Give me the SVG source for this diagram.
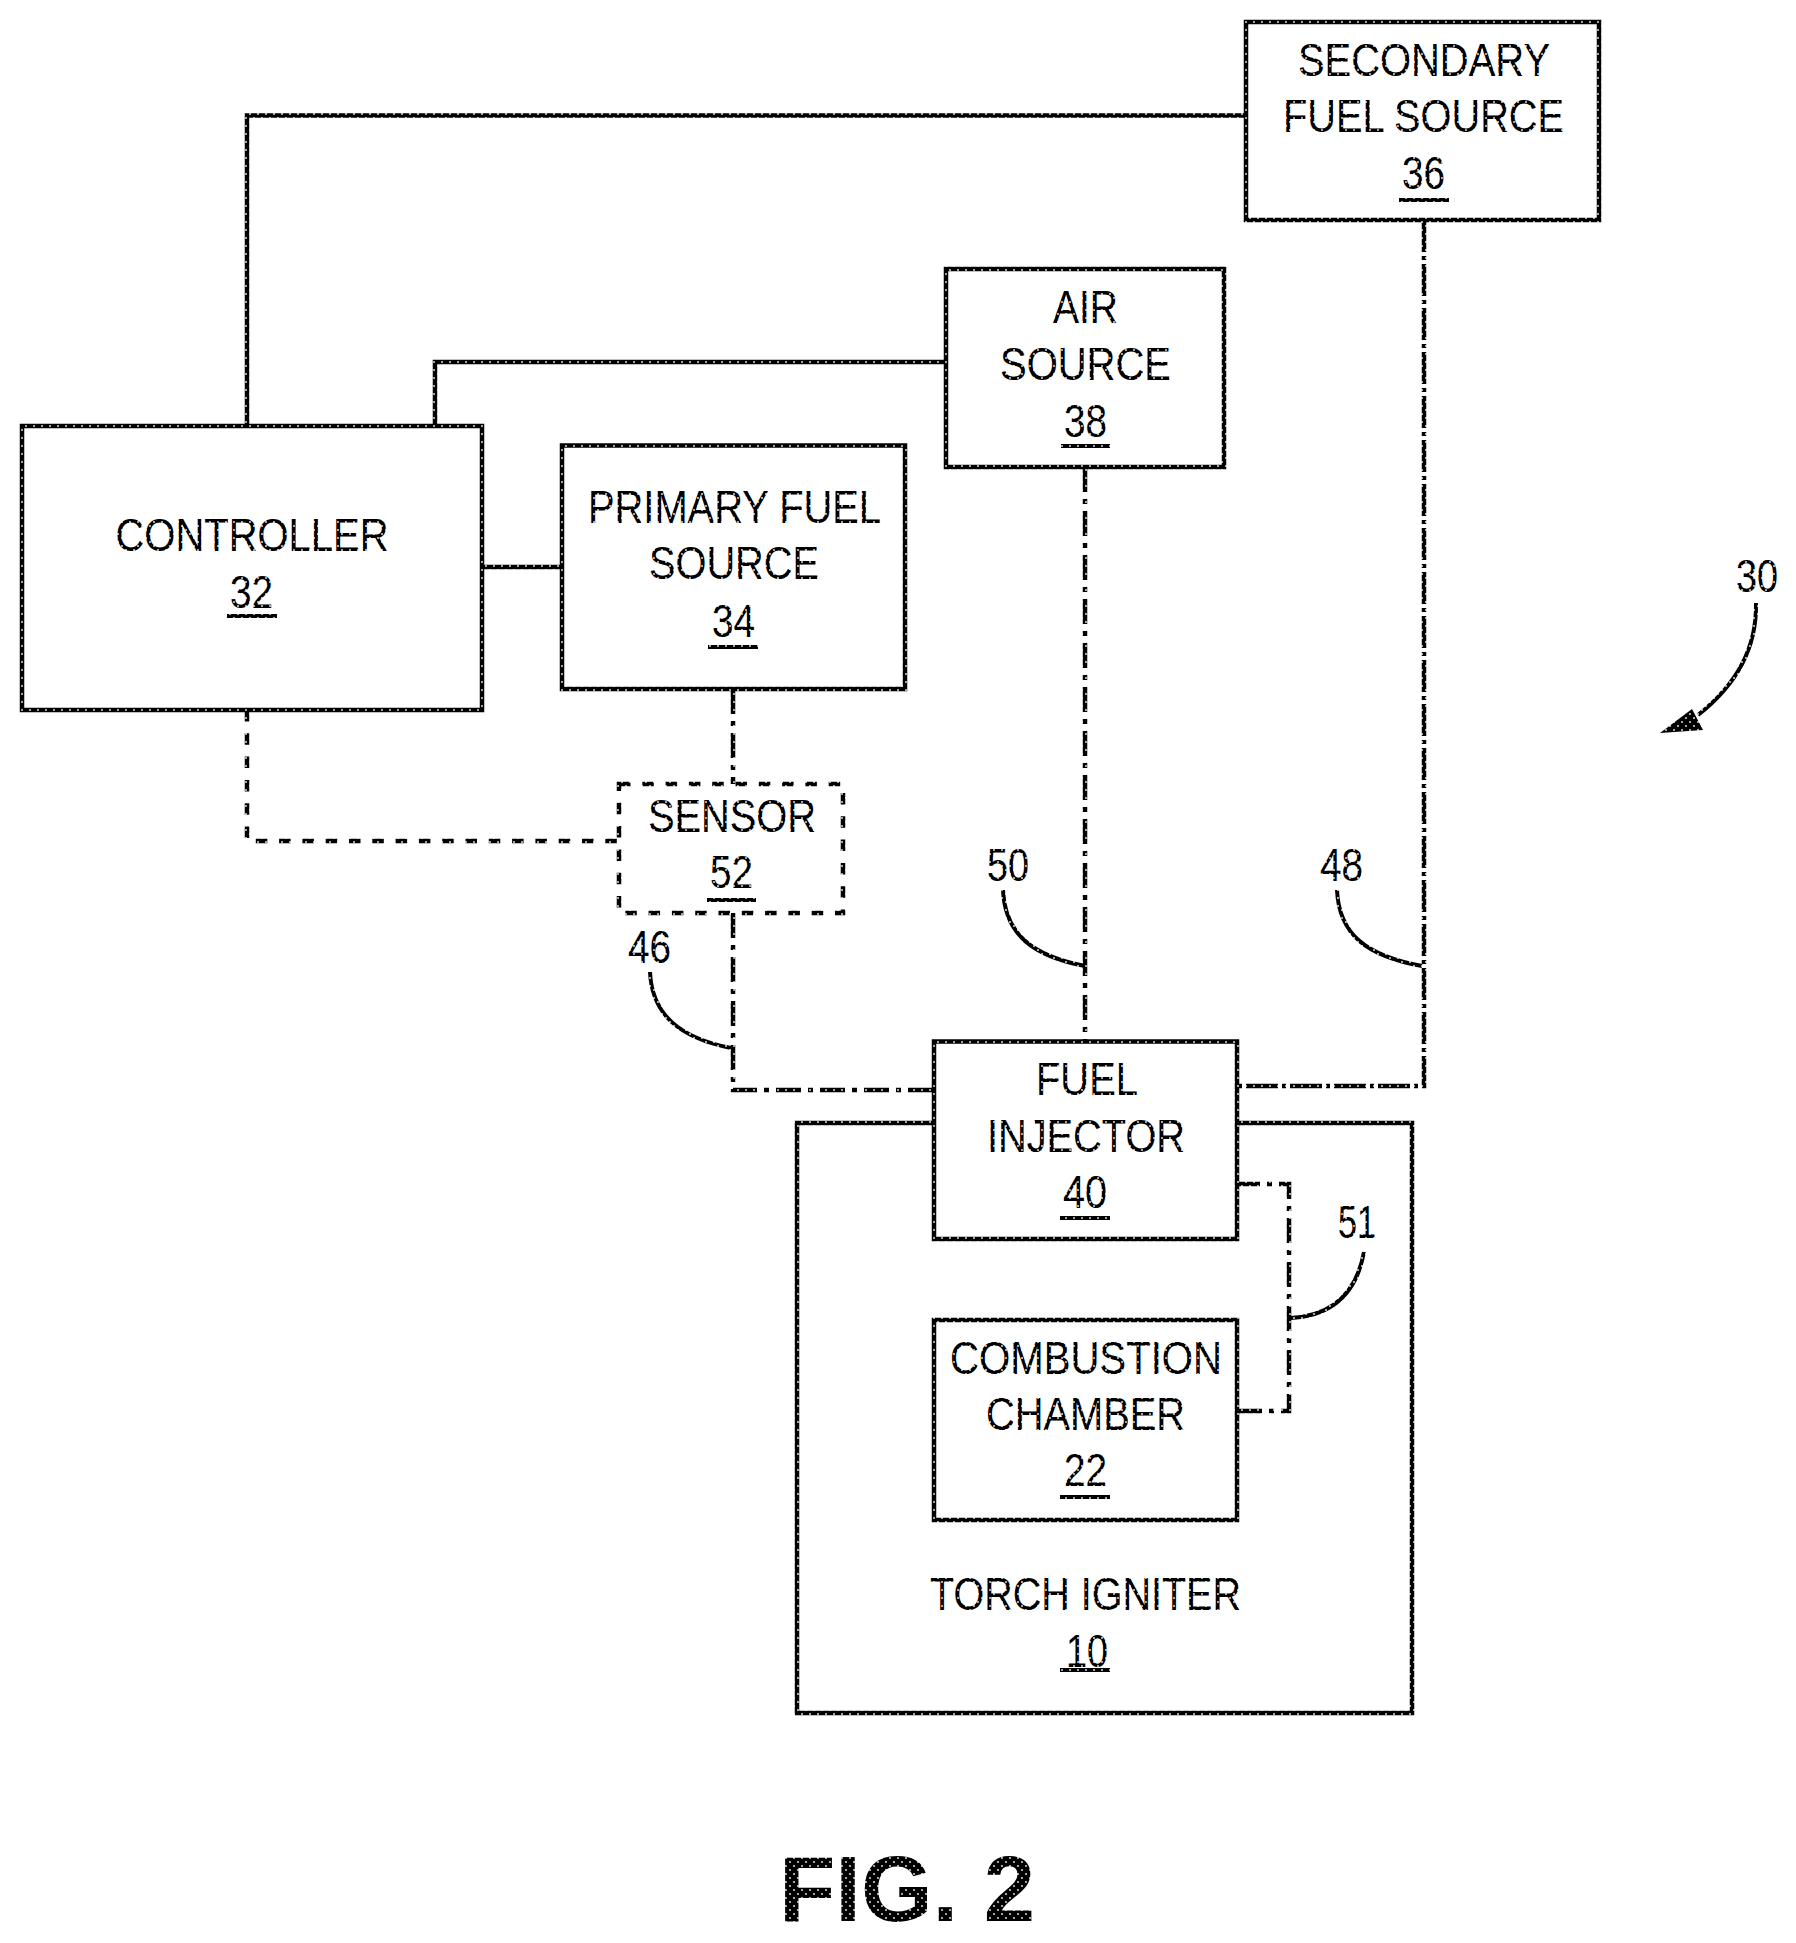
<svg xmlns="http://www.w3.org/2000/svg" width="1796" height="1943" viewBox="0 0 1796 1943">
<defs>
<pattern id="d" patternUnits="userSpaceOnUse" width="8" height="8">
<rect width="8" height="8" fill="#000"/>
<rect x="1.2" y="1.2" width="1.6" height="1.6" fill="#fff"/>
<rect x="5.2" y="5.2" width="1.6" height="1.6" fill="#fff"/>
</pattern>
</defs>
<style>
text{font-family:"Liberation Sans",Arial,sans-serif;font-size:46px;fill:url(#d)}
.big{font-weight:700;font-size:93px}
.box{fill:#fff;stroke:url(#d);stroke-width:4.5}
.dashbox{fill:none;stroke:url(#d);stroke-width:4.5;stroke-dasharray:11.5 11.8}
.ln{fill:none;stroke:url(#d);stroke-width:4.5}
.dash{stroke-dasharray:11.5 11.8}
.dd1{stroke-dasharray:25 7 5 7}
.dd2{stroke-dasharray:32 4 4 4}
.lead{fill:none;stroke:url(#d);stroke-width:4}
.ul{stroke:url(#d);stroke-width:4}
</style>
<rect width="1796" height="1943" fill="#fff"/>
<g id="node-torch">
<rect class="box" x="797" y="1123" width="615" height="590"/>
<text x="930" y="1610" textLength="311" lengthAdjust="spacingAndGlyphs">TORCH IGNITER</text>
<text x="1066" y="1667" textLength="42" lengthAdjust="spacingAndGlyphs">10</text>
<line class="ul" x1="1060" y1="1670" x2="1110" y2="1670"/>
</g>
<g id="connectors">
<path class="ln" d="M247 426V115.500H1246"/>
<path class="ln" d="M435 426V362H946"/>
<path class="ln" d="M482 567H562"/>
<path class="ln dash" d="M247 710V841H620"/>
<path class="ln dd1" d="M733 689V784"/>
<path class="ln dd1" d="M733 913V1090H934"/>
<path class="ln dd1" d="M1085 467V1041"/>
<path class="ln dd2" d="M1424 220V1086H1235"/>
<path class="ln dd1" d="M1235 1184H1289V1411H1235"/>
<path class="lead" d="M650 972C652 1015 680 1038 731 1048"/>
<path class="lead" d="M1003 890C1005 935 1033 956 1085 966"/>
<path class="lead" d="M1337 890C1339 935 1367 956 1422 966"/>
<path class="lead" d="M1364 1252C1357 1290 1335 1316 1290 1318"/>
<path class="lead" d="M1756 603C1757 650 1735 686 1698 715"/>
<polygon fill="url(#d)" points="1660,733 1692,709 1703,730"/>
</g>
<g id="node-controller">
<rect class="box" x="22" y="426" width="460" height="284"/>
<text x="115.500" y="551" textLength="273" lengthAdjust="spacingAndGlyphs">CONTROLLER</text>
<text x="230" y="608" textLength="43" lengthAdjust="spacingAndGlyphs">32</text>
<line class="ul" x1="227" y1="616" x2="277" y2="616"/>
</g>
<g id="node-primary">
<rect class="box" x="562" y="445.500" width="343" height="243.500"/>
<text x="588" y="522.500" textLength="293" lengthAdjust="spacingAndGlyphs">PRIMARY FUEL</text>
<text x="649" y="579" textLength="170" lengthAdjust="spacingAndGlyphs">SOURCE</text>
<text x="712" y="637" textLength="43" lengthAdjust="spacingAndGlyphs">34</text>
<line class="ul" x1="708" y1="647" x2="758" y2="647"/>
</g>
<g id="node-secondary">
<rect class="box" x="1246" y="22" width="353" height="198"/>
<text x="1298" y="76" textLength="252" lengthAdjust="spacingAndGlyphs">SECONDARY</text>
<text x="1283" y="132" textLength="281" lengthAdjust="spacingAndGlyphs">FUEL SOURCE</text>
<text x="1402" y="188.500" textLength="43" lengthAdjust="spacingAndGlyphs">36</text>
<line class="ul" x1="1399" y1="200" x2="1449" y2="200"/>
</g>
<g id="node-air">
<rect class="box" x="946" y="269" width="278" height="198"/>
<text x="1053" y="323" textLength="65" lengthAdjust="spacingAndGlyphs">AIR</text>
<text x="1000" y="379.500" textLength="171" lengthAdjust="spacingAndGlyphs">SOURCE</text>
<text x="1064" y="437" textLength="43" lengthAdjust="spacingAndGlyphs">38</text>
<line class="ul" x1="1061" y1="446" x2="1110" y2="446"/>
</g>
<g id="node-sensor">
<rect class="dashbox" x="619" y="784" width="224" height="129"/>
<text x="648" y="832" textLength="168" lengthAdjust="spacingAndGlyphs">SENSOR</text>
<text x="710" y="888" textLength="43" lengthAdjust="spacingAndGlyphs">52</text>
<line class="ul" x1="707" y1="900" x2="756" y2="900"/>
</g>
<g id="node-injector">
<rect class="box" x="934" y="1041.500" width="303" height="197.500"/>
<text x="1036" y="1095" textLength="102" lengthAdjust="spacingAndGlyphs">FUEL</text>
<text x="987" y="1152" textLength="198" lengthAdjust="spacingAndGlyphs">INJECTOR</text>
<text x="1063" y="1208" textLength="44" lengthAdjust="spacingAndGlyphs">40</text>
<line class="ul" x1="1060" y1="1218" x2="1110" y2="1218"/>
</g>
<g id="node-chamber">
<rect class="box" x="934" y="1320" width="303" height="200"/>
<text x="950" y="1374" textLength="272" lengthAdjust="spacingAndGlyphs">COMBUSTION</text>
<text x="986" y="1430" textLength="199" lengthAdjust="spacingAndGlyphs">CHAMBER</text>
<text x="1064" y="1485.500" textLength="43" lengthAdjust="spacingAndGlyphs">22</text>
<line class="ul" x1="1060" y1="1497" x2="1110" y2="1497"/>
</g>
<g id="labels">
<text x="628" y="963" textLength="43" lengthAdjust="spacingAndGlyphs">46</text>
<text x="987" y="881" textLength="42" lengthAdjust="spacingAndGlyphs">50</text>
<text x="1320" y="881" textLength="43" lengthAdjust="spacingAndGlyphs">48</text>
<text x="1338" y="1238" textLength="38" lengthAdjust="spacingAndGlyphs">51</text>
<text x="1736" y="592" textLength="42" lengthAdjust="spacingAndGlyphs">30</text>
<text class="big" x="779" y="1921" textLength="256" lengthAdjust="spacingAndGlyphs">FIG. 2</text>
</g>
</svg>
